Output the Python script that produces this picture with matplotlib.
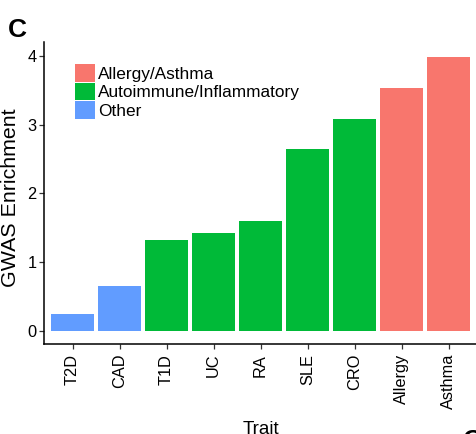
import matplotlib
matplotlib.use("Agg")
import matplotlib.pyplot as plt
from matplotlib.patches import Patch

traits = ["T2D", "CAD", "T1D", "UC", "RA", "SLE", "CRO", "Allergy", "Asthma"]
enrichment = [0.24, 0.65, 1.32, 1.42, 1.60, 2.65, 3.08, 3.53, 3.99]
groups = ["Other", "Other", "Autoimmune/Inflammatory", "Autoimmune/Inflammatory",
          "Autoimmune/Inflammatory", "Autoimmune/Inflammatory", "Autoimmune/Inflammatory",
          "Allergy/Asthma", "Allergy/Asthma"]
group_order = ["Allergy/Asthma", "Autoimmune/Inflammatory", "Other"]
group_colors = {"Allergy/Asthma": "#F8766D",
                "Autoimmune/Inflammatory": "#00BA38",
                "Other": "#619CFF"}
yticks = [0, 1, 2, 3, 4]

plt.rcParams['font.family'] = ['Liberation Sans', 'DejaVu Sans']

W, H = 476, 434
fig = plt.figure(figsize=(W / 100, H / 100), dpi=100)
left_px, right_px = 44.3, 476.7
top_px, bottom_px = 42.3, 344.4
ax = fig.add_axes([left_px / W, 1 - bottom_px / H,
                   (right_px - left_px) / W, (bottom_px - top_px) / H])

xs = list(range(len(traits)))
ax.bar(xs, enrichment, width=0.9, color=[group_colors[g] for g in groups], linewidth=0)

ax.set_xlim(-0.6, len(traits) - 0.4)
ax.set_ylim(-0.2, 4.2)
ax.set_yticks(yticks)
ax.set_yticklabels([str(t) for t in yticks])
ax.set_xticks(xs)
ax.set_xticklabels(traits, rotation=90, ha='center', va='top')

for s in ['top', 'right']:
    ax.spines[s].set_visible(False)
for s in ['left', 'bottom']:
    ax.spines[s].set_color('black')
    ax.spines[s].set_linewidth(1.1)

ax.tick_params(axis='both', labelsize=11.8, colors='#333333', labelcolor='black',
               length=3.5, width=0.9)
ax.tick_params(axis='y', pad=2)
ax.tick_params(axis='x', pad=3.3)

handles = [Patch(facecolor=group_colors[g], edgecolor='none', label=g) for g in group_order]
fig.legend(handles=handles, loc='upper left',
           bbox_to_anchor=(75 / W, 1 - 64 / H), frameon=False,
           fontsize=12.4, handlelength=1.15, handleheight=1.2,
           handletextpad=0.2, labelspacing=0.06, borderpad=0, borderaxespad=0)

fig.text(0.5 / W, 1 - 197.5 / H, "GWAS Enrichment", rotation=90, fontsize=15.4,
         ha='left', va='center')
fig.text((left_px + right_px) / 2 / W, 1 - 421 / H, "Trait", fontsize=13.5,
         ha='center', va='top')
fig.text(8 / W, 1 - 37 / H, "C", fontsize=19, fontweight='bold', ha='left', va='baseline')
fig.text(463 / W, 1 - 429 / H, "C", fontsize=19, fontweight='bold', ha='left', va='top')

fig.savefig("out.png", dpi=100)
